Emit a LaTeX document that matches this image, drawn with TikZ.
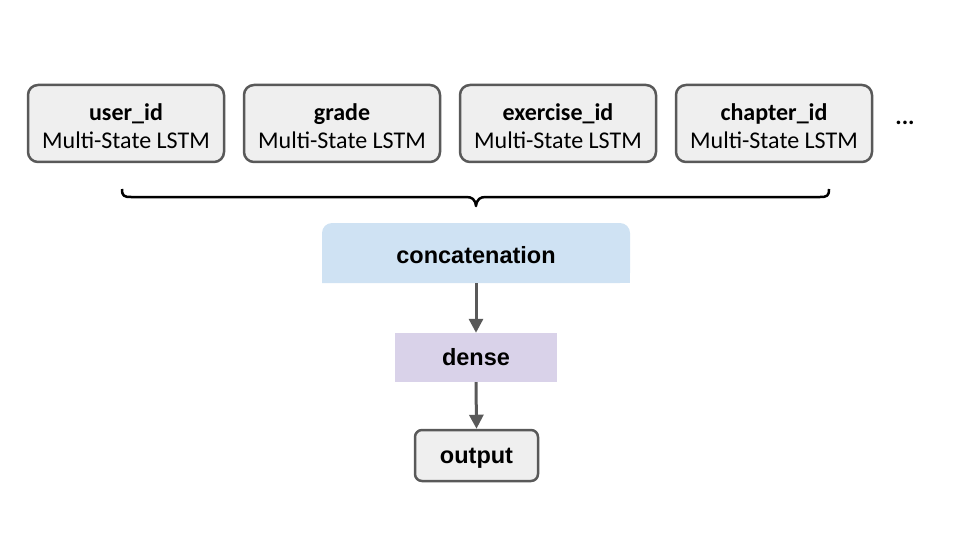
\documentclass[tikz,border=0pt]{standalone}
\usepackage{fontspec}
\setmainfont{Carlito}
\newfontfamily\arialfont{Liberation Sans}
\usetikzlibrary{arrows.meta}
\definecolor{boxgray}{HTML}{EFEFEF}
\definecolor{edgegray}{HTML}{595959}
\definecolor{concatblue}{HTML}{CFE2F3}
\definecolor{denselav}{HTML}{D9D2E9}
\newcommand{\topstrut}{\rule{0pt}{23pt}}
\tikzset{
  x=1pt,y=-1pt,
  lstmbox/.style={draw=edgegray, line width=2.5pt, fill=boxgray, rounded corners=10pt,
    minimum width=196pt, minimum height=77pt, inner sep=0pt, align=center,
    font=\fontsize{24}{28}\selectfont},
  flat/.style={draw=none, inner sep=0pt, font=\arialfont\bfseries\fontsize{23.5}{28}\selectfont},
  arr/.style={draw=edgegray, line width=3pt, -{Triangle[length=14pt,width=14pt]}},
}
\begin{document}
\begin{tikzpicture}
\useasboundingbox (0,0) rectangle (960,540);
\node[lstmbox] (u) at (126,123.5) {\topstrut\textbf{user\_id}\\Multi-State LSTM};
\node[lstmbox] (g) at (342,123.5) {\topstrut\textbf{grade}\\Multi-State LSTM};
\node[lstmbox] (e) at (558,123.5) {\topstrut\textbf{exercise\_id}\\Multi-State LSTM};
\node[lstmbox] (c) at (774,123.5) {\topstrut\textbf{chapter\_id}\\Multi-State LSTM};
\node[font=\bfseries\fontsize{24}{28}\selectfont] (dots) at (905,123) {...};
% brace
\draw[line width=2.5pt, black, line join=round]
  (122,189) .. controls (122,196) and (124,197) .. (131,197) -- (466,197)
  .. controls (472,197) and (475,199) .. (476,206)
  .. controls (477,199) and (480,197) .. (486,197) -- (820,197)
  .. controls (827,197) and (829,196) .. (829,189);
% concatenation
\fill[concatblue, rounded corners=10pt] (322,283) -- (322,223) -- (630,223) -- (630,283) [sharp corners] -- cycle;
\fill[concatblue] (322,250) rectangle (630,283);
\node[flat, minimum width=308pt, minimum height=56pt] (cat) at (476,255) {concatenation};
\node[flat, fill=denselav, minimum width=162pt, minimum height=49pt] (d) at (476,357.5) {dense};
\node[flat, draw=edgegray, line width=2.5pt, fill=boxgray, rounded corners=7pt,
      minimum width=123pt, minimum height=51pt, text depth=0pt] (o) at (476.5,455.5) {output};
\draw[arr] (cat.south) -- (d.north);
\draw[arr] (d.south) -- (o.north);
\end{tikzpicture}
\end{document}
